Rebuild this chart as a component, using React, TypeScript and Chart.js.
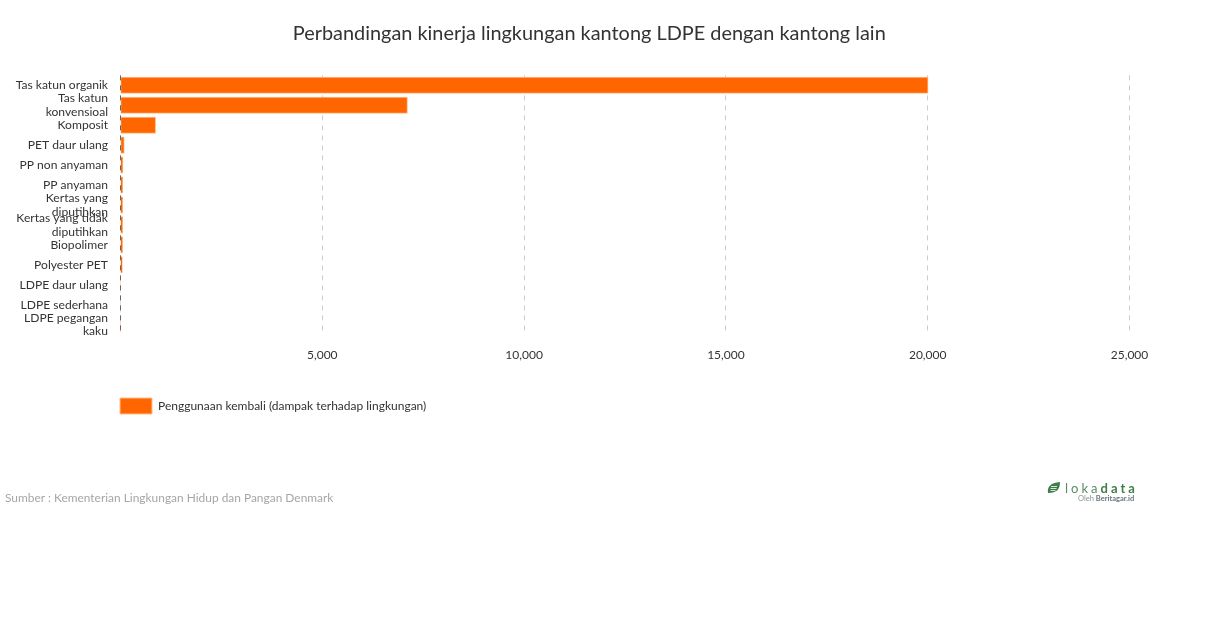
import React, { useEffect, useRef } from "react";
import { Chart, registerables } from "chart.js";

Chart.register(...registerables);

const categories: (string | string[])[] = [
  "Tas katun organik",
  ["Tas katun", "konvensioal"],
  "Komposit",
  "PET daur ulang",
  "PP non anyaman",
  "PP anyaman",
  ["Kertas yang", "diputihkan"],
  ["Kertas yang tidak", "diputihkan"],
  "Biopolimer",
  "Polyester PET",
  "LDPE daur ulang",
  "LDPE sederhana",
  ["LDPE pegangan", "kaku"],
];
const reuseValues = [20000, 7100, 860, 84, 52, 45, 43, 43, 42, 35, 2, 1, 1];
const seriesName = "Penggunaan kembali (dampak terhadap lingkungan)";
const titleText = "Perbandingan kinerja lingkungan kantong LDPE dengan kantong lain";
const sourceText = "Sumber : Kementerian Lingkungan Hidup dan Pangan Denmark";
const FONT = "Lato, sans-serif";

const placeBoxes = {
  id: "placeBoxes",
  afterLayout(chart: any) {
    const lg = chart.legend;
    if (lg) {
      const h = lg.height;
      lg.left = 110;
      lg.top = 388;
      lg.bottom = 388 + h;
    }
    if (chart.titleBlock) {
      chart.titleBlock.left += 24.5;
      chart.titleBlock.right += 24.5;
    }
  },
  afterDatasetsDraw(chart: any) {
    const x = Math.floor(chart.scales.x.getPixelForValue(0)) + 0.5;
    const { ctx, chartArea } = chart;
    ctx.save();
    ctx.strokeStyle = "#666666";
    ctx.lineWidth = 1;
    ctx.setLineDash([5, 5]);
    ctx.beginPath();
    ctx.moveTo(x, chartArea.top);
    ctx.lineTo(x, chartArea.bottom);
    ctx.stroke();
    ctx.restore();
  },
};

export default function App() {
  const ref = useRef<HTMLCanvasElement | null>(null);
  useEffect(() => {
    document.body.style.margin = "0";
    const chart = new Chart(ref.current as HTMLCanvasElement, {
      type: "bar",
      data: {
        labels: categories as any,
        datasets: [
          {
            label: seriesName,
            data: reuseValues,
            backgroundColor: "#ff6600",
            borderColor: "rgba(255,190,140,1)",
            borderWidth: (c: any) => (c.raw < 10 ? 0 : 1),
            borderSkipped: false,
            inflateAmount: (c: any) => (c.raw < 10 ? 0 : 0.75),
            barPercentage: 0.78,
            categoryPercentage: 1,
          },
        ],
      },
      options: {
        indexAxis: "y",
        responsive: false,
        animation: false,
        layout: { padding: { left: 0, right: 80.5, top: 0, bottom: 217.5 } },
        plugins: {
          title: {
            display: true,
            text: titleText,
            color: "#333333",
            font: { family: FONT, size: 19.9, weight: "normal" },
            padding: { top: 22, bottom: 29.5 },
          },
          legend: {
            display: true,
            position: "bottom",
            align: "start",
            labels: {
              boxWidth: 32,
              boxHeight: 16,
              padding: 10,
              color: "#333333",
              font: { family: FONT, size: 12 },
            },
          },
          tooltip: { enabled: false },
        },
        scales: {
          x: {
            type: "linear",
            min: 0,
            max: 25000,
            position: "bottom",
            afterFit(s: any) { s.height = 40; },
            border: { display: false, dash: [5, 5] },
            grid: {
              color: (c: any) => (c.tick && c.tick.value === 0 ? "rgba(0,0,0,0)" : "#cccccc"),
              lineWidth: 1,
              drawTicks: false,
              z: -1,
            },
            ticks: {
              stepSize: 5000,
              padding: 13.5,
              maxRotation: 0,
              color: "#333333",
              font: { family: FONT, size: 12 },
              callback: (v: any) => (v === 0 ? "" : Number(v).toLocaleString("en-US")),
            },
          },
          y: {
            afterFit(s: any) { s.width = 120.5; },
            border: { display: false },
            grid: { display: false, drawTicks: false },
            ticks: {
              padding: 12.5,
              autoSkip: false,
              color: "#333333",
              font: { family: FONT, size: 12.1, lineHeight: 1.14 },
            },
          },
        },
      },
      plugins: [placeBoxes],
    } as any);
    return () => chart.destroy();
  }, []);

  return (
    <div style={{ position: "relative", width: 1210, height: 628, fontFamily: FONT }}>
      <canvas ref={ref} width={1210} height={628} style={{ display: "block" }} />
      <div style={{ position: "absolute", left: 5, top: 490, fontSize: 11.93, color: "#a6a6a6", whiteSpace: "nowrap" }}>
        {sourceText}
      </div>
      <svg width="14" height="12" viewBox="0 0 14 12" style={{ position: "absolute", left: 1047, top: 482 }}>
        <path d="M1 11 C0 5 3 1 13 0 C13 7 10 11 1 11 Z" fill="#3f7d4a" />
        <path d="M4 4.5 H10 M3.5 6.5 H9.5 M3.5 8.5 H8.5" stroke="#ffffff" strokeWidth="0.8" />
      </svg>
      <div style={{ position: "absolute", left: 1065, top: 480, fontSize: 13, letterSpacing: 3, color: "#5a8a64", whiteSpace: "nowrap", lineHeight: "16px" }}>
        loka<b style={{ color: "#3f7d4a" }}>data</b>
      </div>
      <div style={{ position: "absolute", left: 1078, top: 494, fontSize: 7.5, color: "#8a9494", whiteSpace: "nowrap", lineHeight: "9px" }}>
        Oleh <b style={{ color: "#66757a" }}>Beritagar.id</b>
      </div>
    </div>
  );
}
